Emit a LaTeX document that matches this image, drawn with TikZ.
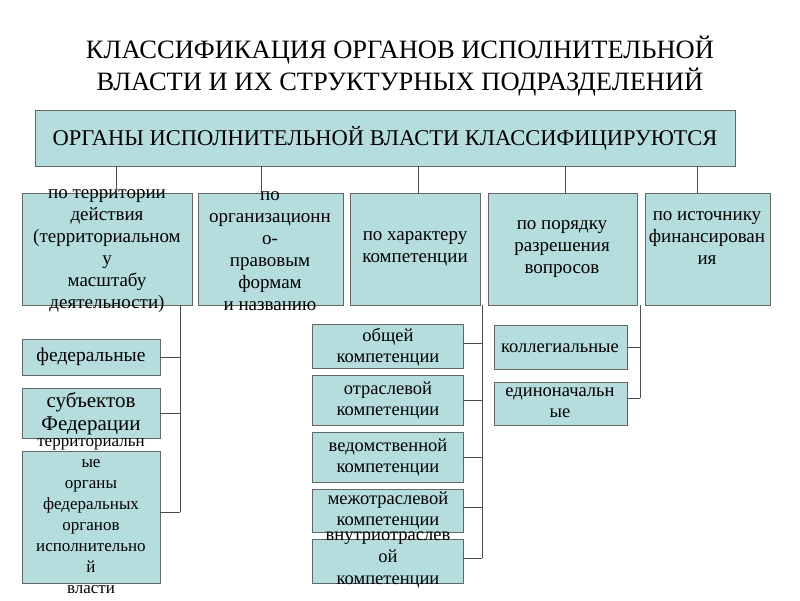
\documentclass[tikz,border=0pt]{standalone}
\usepackage{fontspec}
\setmainfont{Liberation Serif}
\begin{document}
\begin{tikzpicture}[x=1pt,y=-1pt,
  box/.style={draw=black!60,fill=boxc,line width=0.8pt},
  txt/.style={align=center,inner sep=0pt},
  ln/.style={draw=black!70,line width=0.7pt}]
\definecolor{boxc}{RGB}{182,221,221}
\useasboundingbox (0,0) rectangle (800,600);
\fill[white] (0,0) rectangle (800,600);
\node[txt,font=\fontsize{26.5}{32}\selectfont] (title) at (400,66) {КЛАССИФИКАЦИЯ ОРГАНОВ ИСПОЛНИТЕЛЬНОЙ\\ВЛАСТИ И ИХ СТРУКТУРНЫХ ПОДРАЗДЕЛЕНИЙ};
% top
\path[box] (35,110) rectangle (735,166);
\node[txt,font=\fontsize{22.5}{24}\selectfont] (top) at (385,138) {ОРГАНЫ ИСПОЛНИТЕЛЬНОЙ ВЛАСТИ КЛАССИФИЦИРУЮТСЯ};
% row
\tikzset{rowf/.style={txt,font=\fontsize{19}{22}\selectfont}, chf/.style={txt,font=\fontsize{18.5}{21}\selectfont}}
\path[box] (22,193) rectangle (192,305);
\path[box] (198,193) rectangle (343,305);
\path[box] (350,193) rectangle (480,305);
\path[box] (488,193) rectangle (637,305);
\path[box] (645,193) rectangle (770,305);
\node[rowf] (r1) at (107,251) {по территории\\действия\\(территориальном\\у\\масштабу\\деятельности)};
\node[rowf] (r2) at (270,251) {по\\организационн\\о-\\правовым\\формам\\и названию};
\node[rowf] (r3) at (415,249) {по характеру\\компетенции};
\node[rowf] (r4) at (562,249) {по порядку\\разрешения\\вопросов};
\node[rowf] (r5) at (707,238) {по источнику\\финансирован\\ия};
\foreach \x in {116,261,418,565,697}{\draw[ln] (\x,166) -- (\x,193);}
% left children
\path[box] (22,339) rectangle (160,375);
\path[box] (22,388) rectangle (160,438);
\path[box] (22,451) rectangle (160,583);
\node[txt,font=\fontsize{19.5}{20}\selectfont] (c1) at (91,357) {федеральные};
\node[txt,font=\fontsize{21}{23}\selectfont] (c2) at (91,414) {субъектов\\Федерации};
\node[txt,font=\fontsize{17}{21}\selectfont] (c3) at (91,516) {территориальн\\ые\\органы\\федеральных\\органов\\исполнительно\\й\\власти};
\draw[ln] (180,305) -- (180,512);
\foreach \y in {357,413,512}{\draw[ln] (160,\y) -- (180,\y);}
% middle children
\foreach \a/\b in {324/368,375/425,432/482,489/532,539/583}{\path[box] (312,\a) rectangle (463,\b);}
\node[chf] (m1) at (388,347) {общей\\компетенции};
\node[chf] (m2) at (388,400) {отраслевой\\компетенции};
\node[chf] (m3) at (388,457) {ведомственной\\компетенции};
\node[chf] (m4) at (388,510) {межотраслевой\\компетенции};
\node[txt,font=\fontsize{18.5}{22}\selectfont] (m5) at (388,560) {внутриотраслев\\ой\\компетенции};
\draw[ln] (482,305) -- (482,558);
\foreach \y in {343,400,457,507,558}{\draw[ln] (463,\y) -- (482,\y);}
% right children
\path[box] (494,325) rectangle (627,369);
\path[box] (494,382) rectangle (627,425);
\node[chf] (k1) at (560,348) {коллегиальные};
\node[chf] (k2) at (560,403) {единоначальн\\ые};
\draw[ln] (640,305) -- (640,398);
\foreach \y in {347,398}{\draw[ln] (627,\y) -- (640,\y);}
\end{tikzpicture}
\end{document}
